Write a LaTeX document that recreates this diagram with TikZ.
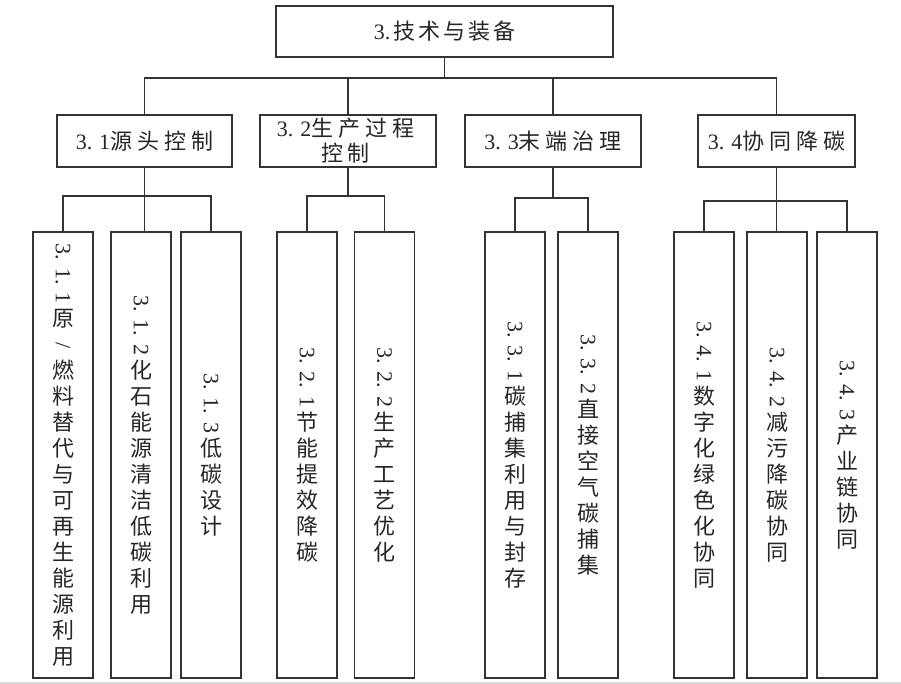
\documentclass[tikz,border=0pt]{standalone}
\usepackage{fontspec}
\usepackage{graphicx}
\setmainfont{Liberation Serif}
\newfontfamily\cjk{Noto Sans CJK SC}
\newcommand\lat[1]{{\rmfamily #1}}
\newlength\lsp
\def\spc#1{\spcaux#1\relax\hspace{-\lsp}}
\def\spcaux#1{\ifx#1\relax\else#1\hspace{\lsp}\expandafter\spcaux\fi}
\newcommand\vl[3]{\rotatebox{-90}{\lat{#1.\hspace{8pt}#2.\hspace{8pt}#3}}\\[4pt]}
\newcommand\vslash{\rotatebox[origin=c]{-90}{\lat{/}}}
\tikzset{
  x=1pt, y=-1pt,
  box/.style={draw=black!80, line width=1.1pt, inner sep=0pt, text=black!85,
    font=\fontsize{22}{26}\selectfont\cjk, align=center},
  topbox/.style={box, minimum width=337pt, minimum height=51pt},
  midbox/.style={box, minimum height=52pt},
  leafbox/.style={box, minimum width=60pt, minimum height=446pt},
  conn/.style={draw=black!80, line width=1.1pt}
}
\begin{document}
\begin{tikzpicture}
\useasboundingbox (0,0) rectangle (901,684);
\fill[white] (0,0) rectangle (901,684);
\fill[black!14] (0,682) rectangle (901,684);

% root
\node[topbox] (root) at (444.5,31.5) {\setlength\lsp{3pt}\lat{3.}\hspace{3pt}\spc{技术与装备}};

% level 2
\node[midbox, minimum width=175pt] (a1) at (144.5,141) {\setlength\lsp{5pt}\lat{3.\hspace{7pt}1}\spc{源头控制}};
\node[midbox, minimum width=176pt] (a2) at (348,141) {\setlength\lsp{5pt}\lat{3.\hspace{7pt}2}\spc{生产过程}\\[-1pt]\setlength\lsp{5pt}\spc{控制}};
\node[midbox, minimum width=176pt] (a3) at (553,141) {\setlength\lsp{5pt}\lat{3.\hspace{7pt}3}\spc{末端治理}};
\node[midbox, minimum width=157pt] (a4) at (776.5,141) {\setlength\lsp{5pt}\lat{3.\hspace{7pt}4}\spc{协同降碳}};

% level 3
\node[leafbox] (b11) at (63,455) {\vl{3}{1}{1}原\\\vslash\\燃\\料\\替\\代\\与\\可\\再\\生\\能\\源\\利\\用};
\node[leafbox] (b12) at (141,455) {\vl{3}{1}{2}化\\石\\能\\源\\清\\洁\\低\\碳\\利\\用};
\node[leafbox] (b13) at (211,455) {\vl{3}{1}{3}低\\碳\\设\\计};
\node[leafbox] (b21) at (307,455) {\vl{3}{2}{1}节\\能\\提\\效\\降\\碳};
\node[leafbox] (b22) at (384.5,455) {\vl{3}{2}{2}生\\产\\工\\艺\\优\\化};
\node[leafbox] (b31) at (515,455) {\vl{3}{3}{1}碳\\捕\\集\\利\\用\\与\\封\\存};
\node[leafbox] (b32) at (588,455) {\vl{3}{3}{2}直\\接\\空\\气\\碳\\捕\\集};
\node[leafbox] (b41) at (704,455) {\vl{3}{4}{1}数\\字\\化\\绿\\色\\化\\协\\同};
\node[leafbox] (b42) at (777,455) {\vl{3}{4}{2}减\\污\\降\\碳\\协\\同};
\node[leafbox] (b43) at (847,455) {\vl{3}{4}{3}产\\业\\链\\协\\同};

% junctions
\coordinate (j0) at (444.5,78);
\coordinate (j1) at (144.5,196);
\coordinate (j2) at (348,196);
\coordinate (j3) at (553,198);
\coordinate (j4) at (776.5,201);

% connectors
\draw[conn] (root.south) -- (j0);
\draw[conn] (a1.north) |- (j0) -| (a4.north);
\draw[conn] (a2.north) -- (a2.north |- j0);
\draw[conn] (a3.north) -- (a3.north |- j0);

\draw[conn] (a1.south) -- (a1.south |- b12.north);
\draw[conn] (b11.north) |- (j1) -| (b13.north);

\draw[conn] (a2.south) -- (j2);
\draw[conn] (b21.north) |- (j2) -| (b22.north);

\draw[conn] (a3.south) -- (j3);
\draw[conn] (b31.north) |- (j3) -| (b32.north);

\draw[conn] (a4.south) -- (a4.south |- b42.north);
\draw[conn] (b41.north) |- (j4) -| (b43.north);
\end{tikzpicture}
\end{document}
